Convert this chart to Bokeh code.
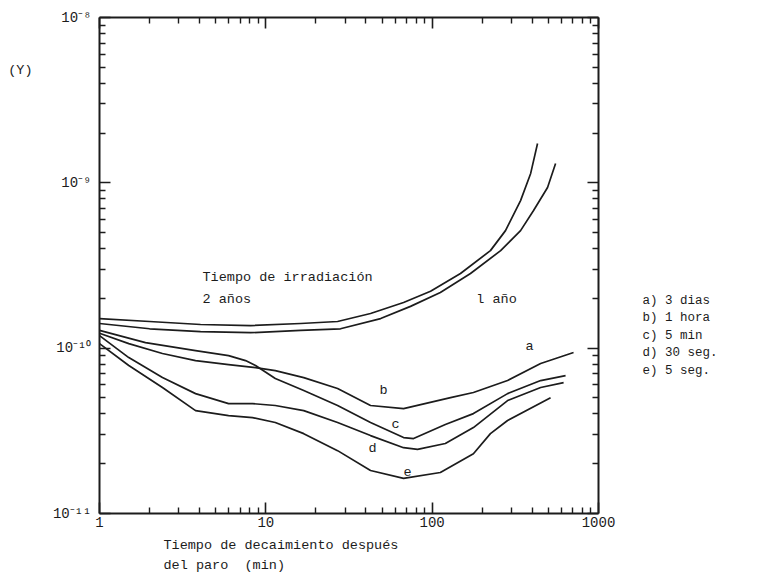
from bokeh.plotting import figure
from bokeh.models import LogAxis, FixedTicker, CustomJSTickFormatter, Range1d
from bokeh.core.properties import value
from bokeh.embed import file_html
from bokeh.resources import INLINE

# ---------------- data ----------------
x_2anos = [1.0, 2.0, 4.05, 8.09, 16.2, 27.0, 42.6, 67.3, 97.8, 148, 224, 276, 340, 391, 430]
y_2anos = [1.51e-10, 1.45e-10, 1.39e-10, 1.37e-10, 1.41e-10, 1.45e-10, 1.62e-10, 1.89e-10,
           2.21e-10, 2.83e-10, 3.89e-10, 5.14e-10, 7.81e-10, 1.14e-9, 1.73e-9]

x_1ano = [1.0, 2.0, 4.05, 8.09, 16.2, 28.1, 49.0, 74.1, 112, 170, 258, 340, 407, 494, 552]
y_1ano = [1.41e-10, 1.31e-10, 1.26e-10, 1.24e-10, 1.28e-10, 1.31e-10, 1.51e-10, 1.79e-10,
          2.17e-10, 2.83e-10, 3.89e-10, 5.14e-10, 6.80e-10, 9.37e-10, 1.31e-9]

x_ab = [1.0, 1.5, 2.39, 3.78, 5.97, 8.67, 11.4, 16.9, 27.0, 42.6, 67.3, 129, 177, 284, 449, 708]
y_ab = [1.23e-10, 1.066e-10, 9.28e-11, 8.41e-11, 7.96e-11, 7.63e-11, 7.32e-11, 6.64e-11,
        5.70e-11, 4.50e-11, 4.31e-11, 5.02e-11, 5.39e-11, 6.37e-11, 8.07e-11, 9.41e-11]

x_c = [1.0, 1.89, 3.78, 5.97, 7.55, 8.67, 11.4, 16.9, 27.0, 42.6, 67.3, 77.3, 120, 177, 284, 449, 634]
y_c = [1.28e-10, 1.08e-10, 9.67e-11, 9.02e-11, 8.41e-11, 7.85e-11, 6.55e-11, 5.54e-11, 4.50e-11,
       3.55e-11, 2.88e-11, 2.84e-11, 3.45e-11, 4.02e-11, 5.31e-11, 6.37e-11, 6.83e-11]

x_d = [1.0, 1.5, 2.39, 3.78, 5.97, 8.32, 11.4, 16.9, 27.0, 42.6, 67.3, 81.7, 120, 177, 284, 449, 617]
y_d = [1.19e-10, 8.77e-11, 6.64e-11, 5.31e-11, 4.62e-11, 4.62e-11, 4.50e-11, 4.19e-11, 3.55e-11,
       2.96e-11, 2.50e-11, 2.44e-11, 2.65e-11, 3.31e-11, 4.82e-11, 5.78e-11, 6.19e-11]

x_e = [1.0, 1.5, 2.39, 3.78, 5.97, 8.32, 11.4, 16.9, 27.0, 42.6, 67.3, 112, 177, 224, 284, 515]
y_e = [1.066e-10, 7.85e-11, 5.78e-11, 4.19e-11, 3.91e-11, 3.80e-11, 3.55e-11, 3.04e-11,
       2.40e-11, 1.82e-11, 1.63e-11, 1.77e-11, 2.30e-11, 3.04e-11, 3.65e-11, 5.02e-11]

x_tick_vals = [1, 10, 100, 1000]
x_tick_labels = ["1", "10", "100", "1000"]
y_tick_vals = [1e-11, 1e-10, 1e-9, 1e-8]
y_tick_labels = ["10\u207b\u00b9\u00b9", "10\u207b\u00b9\u2070", "10\u207b\u2079", "10\u207b\u2078"]
minor_mant = [2, 3, 4, 5, 6, 7, 8, 9]

legend_lines = ["a) 3 dias", "b) 1 hora", "c) 5 min", "d) 30 seg.", "e) 5 seg."]
y_unit_label = "(Y)"
x_title_lines = ["Tiempo de decaimiento después", "del paro\u00a0 (min)"]

# ---------------- layout ----------------
INK = "#1c1c1c"
FONT = "Liberation Mono"
FL, FR, FT, FB = 99, 598, 17, 513   # frame edges in canvas pixels
W, H = 760, 580

p = figure(width=W, height=H, x_axis_type="log", y_axis_type="log",
           x_range=Range1d(1, 1000), y_range=Range1d(1e-11, 1e-8),
           min_border_left=FL, min_border_right=W - FR,
           min_border_top=FT, min_border_bottom=H - FB,
           output_backend="svg", toolbar_location=None)
p.xgrid.grid_line_color = None
p.ygrid.grid_line_color = None
p.outline_line_color = None
p.background_fill_color = "white"
p.border_fill_color = "white"

xminor = [m * 10 ** k for k in range(0, 3) for m in minor_mant]
yminor = [m * 10.0 ** k for k in range(-11, -8) for m in minor_mant]

def ticker(vals, minor):
    return FixedTicker(ticks=vals, minor_ticks=minor)

def fmt(vals, labs):
    return CustomJSTickFormatter(args=dict(v=vals, l=labs), code="""
for (let i = 0; i < v.length; i++) {
  if (Math.abs(Math.log10(tick) - Math.log10(v[i])) < 1e-6) return l[i];
}
return ' ';
""")

def style(ax, show):
    ax.axis_line_width = 2
    ax.axis_line_color = INK
    ax.major_tick_in = 11
    ax.major_tick_out = 0
    ax.minor_tick_in = 6
    ax.minor_tick_out = 0
    ax.major_tick_line_width = 1.6
    ax.minor_tick_line_width = 1.4
    ax.major_tick_line_color = INK
    ax.minor_tick_line_color = INK
    ax.major_label_text_font = FONT
    if show:
        ax.major_label_text_font_size = "14px"
        ax.major_label_text_color = INK
    else:
        ax.major_label_text_font_size = "1px"
        ax.major_label_text_color = None
        ax.major_label_standoff = 0

xa = p.xaxis[0]
xa.ticker = ticker(x_tick_vals, xminor)
xa.formatter = fmt(x_tick_vals, x_tick_labels)
style(xa, True)
xa.major_label_standoff = 3

ya = p.yaxis[0]
ya.ticker = ticker(y_tick_vals, yminor)
ya.formatter = fmt(y_tick_vals, y_tick_labels)
style(ya, True)
ya.major_label_standoff = 8

top = LogAxis(ticker=ticker(x_tick_vals, xminor))
style(top, False)
p.add_layout(top, "above")
right = LogAxis(ticker=ticker(y_tick_vals, yminor))
style(right, False)
p.add_layout(right, "right")

# ---------------- curves ----------------
for xs, ys in [(x_2anos, y_2anos), (x_1ano, y_1ano), (x_ab, y_ab),
               (x_c, y_c), (x_d, y_d), (x_e, y_e)]:
    p.line(xs, ys, line_color=INK, line_width=1.7, line_join="round")

# ---------------- texts ----------------
def dx(px):
    return 10 ** (3 * (px - FL) / (FR - FL))

def dy(py):
    return 10 ** (-8 - 3 * (py - FT) / (FB - FT))

def in_text(px, py, txt, align="left", size="13.5px"):
    p.text(x=[dx(px)], y=[dy(py)], text=[txt], text_font=value(FONT),
           text_font_size=size, text_color=INK, text_align=align,
           text_baseline="middle")

in_text(202, 277, "Tiempo de irradiación")
in_text(202, 299, "2 años")
in_text(496, 299, "l año", align="center")
in_text(529, 346, "a", align="center")
in_text(383, 390, "b", align="center")
in_text(395, 424, "c", align="center")
in_text(372, 448, "d", align="center")
in_text(407, 471, "e", align="center")

# texts outside the frame: carried by label-only axes in the side panels
def text_axis(side, vals, labs, standoff, size="13.5px"):
    ax = LogAxis(ticker=FixedTicker(ticks=vals, minor_ticks=[]), formatter=fmt(vals, labs))
    ax.axis_line_color = None
    ax.major_tick_line_color = None
    ax.minor_tick_line_color = None
    ax.major_tick_in = 0
    ax.major_tick_out = 0
    ax.minor_tick_in = 0
    ax.minor_tick_out = 0
    ax.major_label_standoff = standoff
    ax.major_label_text_font = FONT
    ax.major_label_text_font_size = size
    ax.major_label_text_color = INK
    p.add_layout(ax, side)
    return ax

# "(Y)" at the upper left
text_axis("left", [dy(70)], [y_unit_label], 17)
# legend list on the right
text_axis("right", [dy(300 + 17.5 * i) for i in range(len(legend_lines))], legend_lines, 44, size="12.5px")
# x-axis title, two left-aligned lines (centred on their own middle)
cw = 8.1
text_axis("below", [dx(163 + cw * len(x_title_lines[0]) / 2)], [x_title_lines[0]], 8)
text_axis("below", [dx(163 + cw * len(x_title_lines[1]) / 2)], [x_title_lines[1]], 2)

open("out.html", "w").write(file_html(p, INLINE))
